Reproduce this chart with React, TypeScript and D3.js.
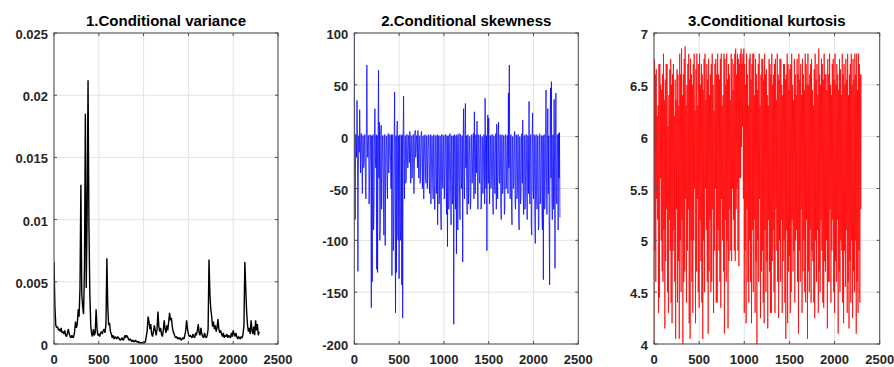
import React from "react";
import * as d3 from "d3";

const VAR_STEP = 10;
const DENSE_STEP = 5;

const varianceValues = [
  0.0066, 0.0030, 0.0015, 0.0013, 0.0014, 0.0011, 0.0012, 0.0010, 0.0013, 0.0009,
  0.0010, 0.0008, 0.0011, 0.0007, 0.0006, 0.0009, 0.0012, 0.0008, 0.0006, 0.0005,
  0.0007, 0.0005, 0.0006, 0.0010, 0.0018, 0.0013, 0.0016, 0.0028, 0.0022, 0.0045,
  0.0128, 0.0040, 0.0030, 0.0024, 0.0060, 0.0185, 0.0045, 0.0105, 0.0212, 0.0095,
  0.0040, 0.0015, 0.0008, 0.0006, 0.0012, 0.0007, 0.0009, 0.0028, 0.0012, 0.0007,
  0.0008, 0.0006, 0.0009, 0.0010, 0.0008, 0.0011, 0.0012, 0.0009, 0.0016, 0.0069,
  0.0030, 0.0015, 0.0017, 0.0010, 0.0008, 0.0005, 0.0007, 0.0004, 0.0006, 0.0005,
  0.0004, 0.0006, 0.0005, 0.0004, 0.0003, 0.0004, 0.0005, 0.0003, 0.0004, 0.0007,
  0.0005, 0.0007, 0.0006, 0.0004, 0.0003, 0.0004, 0.0003, 0.0002, 0.0003, 0.0002,
  0.0002, 0.0003, 0.0002, 0.00015, 0.0002, 0.0001, 0.00012, 0.0001, 0.00008, 0.0001,
  0.00015, 0.0001, 0.0002, 0.0006, 0.0011, 0.0022, 0.0018, 0.0012, 0.0016, 0.0008,
  0.0006, 0.0010, 0.0015, 0.0011, 0.0007, 0.0012, 0.0026, 0.0014, 0.0010, 0.0013,
  0.0008, 0.0006, 0.0011, 0.0019, 0.0012, 0.0009, 0.0015, 0.0011, 0.0018, 0.0025,
  0.0019, 0.0021, 0.0014, 0.0010, 0.0008, 0.0006, 0.0005, 0.0006, 0.0004, 0.0005,
  0.0004, 0.0005, 0.0003, 0.0004, 0.0005, 0.0004, 0.0007, 0.0011, 0.0019, 0.0012,
  0.0008, 0.0006, 0.0007, 0.0006, 0.0005, 0.0008, 0.0006, 0.0005, 0.0009, 0.0007,
  0.0011, 0.0016, 0.0009, 0.0007, 0.0013, 0.0008, 0.0006, 0.0005, 0.0009, 0.0006,
  0.0005, 0.0007, 0.0012, 0.0068, 0.0040, 0.0028, 0.0022, 0.0014, 0.0018, 0.0012,
  0.0015, 0.0010, 0.0013, 0.0020, 0.0012, 0.0009, 0.0011, 0.0008, 0.0006, 0.0009,
  0.0005, 0.0007, 0.0006, 0.0008, 0.0005, 0.0007, 0.0006, 0.0005, 0.0009, 0.0006,
  0.0011, 0.0008, 0.0006, 0.0009, 0.0006, 0.0004, 0.0006, 0.0005, 0.0004, 0.0006,
  0.0005, 0.0008, 0.0015, 0.0066, 0.0045, 0.0026, 0.0015, 0.0010, 0.0013, 0.0008,
  0.0019, 0.0011, 0.0008, 0.0014, 0.0007, 0.0019, 0.0011, 0.0016, 0.0007, 0.0010,
];

const skewnessValues = [
  100, -30, -80, 2, 2, -20, 35, 1, -130, -40, 1, -15, 26, 0, -35, 2, 3, -25, -55, 1,
  1, -30, -25, 2, 2, -50, -60, 1, 69, 0, -20, 1, 1, -65, -45, 2, 0, -35, -165, 1,
  -140, 1, 2, -90, -70, 1, 27, -20, -30, 2, -128, 1, -131, 0, 64, -40, 14, -100, -85, 1,
  11, -70, -40, 1, 1, -50, -95, 2, 2, -105, -30, 1, 0, -45, -60, 1, 3, -35, -20, 2,
  1, -25, -50, 2, -134, 1, 2, -110, -90, 0, 43, -60, -170, 1, -131, 2, 15, -95, -100, 1,
  -137, 0, 2, -100, -85, 1, -143, 2, -175, 0, 39, -20, -60, 1, 1, -45, -40, 2, 2, -30,
  -30, 1, 1, -25, 5, -10, -45, 1, 0, -40, -20, 2, 2, -55, -35, 1, 6, -20, -15, 1,
  1, -30, 6, -15, -40, 1, 0, -45, -25, 2, 5, -20, -50, 0, 1, -60, -30, 1, 2, -35,
  -45, 1, 0, -50, -20, 2, 1, -40, -55, 0, 2, -65, -35, 1, 0, -45, -60, 2, 1, -70,
  -70, 1, 0, -55, -40, 2, -85, 0, 1, -65, -60, 1, 0, -75, -90, 2, 2, -45, -50, 1,
  1, -60, -40, 2, 2, -50, -75, 1, -106, 0, 1, -70, -55, 2, 3, -45, -85, 1, 0, -65,
  -60, 1, -181, 0, 2, -55, -70, 1, -113, 2, 1, -90, -50, 0, 3, -60, -80, 2, 0, -50,
  -45, 1, -121, 0, 27, -40, -60, 2, 32, -30, 1, -55, -75, 1, 2, -65, -40, 0, 0, -70,
  -65, 2, 1, -45, -30, 1, 3, -60, 24, -20, -55, 1, 2, -35, 15, -50, -70, 2, 1, -40,
  -45, 1, 2, -70, -60, 0, 0, -55, -35, 2, 1, -65, 37, -20, -50, 1, -110, 0, 21, -45,
  18, -30, -65, 1, 1, -50, -40, 2, 2, -60, -75, 1, 0, -45, -55, 2, 3, -70, 12, -35,
  -60, 1, 14, -40, -45, 2, 1, -65, -80, 0, 2, -55, -50, 1, 0, -75, -70, 2, 2, -50,
  -35, 1, 1, -55, 42, -30, 69, -20, -60, 1, 2, -70, -85, 0, 0, -50, -45, 2, 5, -65,
  -70, 2, 1, -60, -55, 1, 2, -80, -90, 0, 0, -65, -60, 1, 3, -45, 16, -55, -75, 1,
  1, -70, -50, 2, 2, -60, -80, 1, 0, -55, 34, -25, -65, 1, 2, -85, -95, 0, 23, -50,
  -60, 2, 1, -75, -103, 0, 2, -60, -70, 1, 0, -90, -85, 2, 3, -65, -55, 1, 1, -80,
  -90, 1, -138, 0, 2, -70, -60, 2, 45, -35, -75, 1, 27, -55, 1, -85, -143, 2, 47, -40,
  53, -60, -80, 1, 2, -70, 36, -30, -127, 1, 42, -55, -65, 2, 1, -90, 3, -40, 4, -78,
];

const kurtosisValues = [
  4.0, 6.75, 4.9, 6.6, 4.6, 6.65, 5.4, 6.2, 5.2, 6.3, 4.3, 6.7, 4.45, 6.7, 5.6, 6.5, 5.0, 6.45, 4.7, 6.6,
  4.6, 6.8, 5.1, 6.35, 4.15, 6.55, 4.8, 6.7, 5.3, 6.7, 4.5, 6.1, 4.3, 6.4, 5.2, 6.65, 4.9, 6.75, 4.4, 6.5,
  4.2, 6.6, 4.9, 6.7, 5.1, 6.2, 4.6, 6.55, 4.05, 6.35, 5.3, 6.65, 4.4, 6.6, 4.8, 6.3, 4.05, 6.8, 5.0, 6.6,
  4.5, 6.85, 5.2, 6.4, 4.0, 6.6, 4.6, 6.75, 4.7, 6.87, 5.4, 6.3, 4.4, 6.5, 4.9, 6.7, 5.3, 6.8, 4.2, 6.55,
  4.05, 6.75, 5.0, 6.6, 4.6, 6.5, 4.3, 6.7, 5.0, 6.8, 5.5, 6.25, 4.2, 6.65, 4.7, 6.8, 5.4, 6.3, 4.5, 6.7,
  4.35, 6.8, 5.2, 6.5, 4.8, 6.7, 4.4, 6.6, 4.05, 6.45, 5.0, 6.75, 4.5, 6.8, 5.5, 6.35, 5.1, 6.7, 4.6, 6.55,
  4.1, 6.75, 4.7, 6.4, 5.2, 6.6, 4.5, 6.7, 4.6, 6.8, 5.3, 6.5, 4.3, 6.25, 4.9, 6.7, 5.5, 6.75, 4.4, 6.6,
  4.4, 6.8, 5.1, 6.6, 4.9, 6.55, 4.6, 6.75, 4.35, 6.8, 5.4, 6.3, 5.0, 6.4, 4.7, 6.8, 4.1, 6.75, 5.2, 6.5,
  4.6, 6.8, 5.0, 6.55, 4.15, 6.7, 4.8, 6.6, 5.3, 6.35, 4.9, 6.8, 4.8, 6.75, 5.5, 6.45, 5.2, 6.7, 4.9, 6.8,
  4.8, 6.85, 5.3, 6.6, 5.5, 6.8, 4.9, 6.75, 4.75, 6.7, 5.6, 6.8, 5.6, 6.85, 5.9, 6.7, 6.1, 6.8, 5.4, 6.85,
  4.3, 6.7, 4.9, 6.5, 4.2, 6.8, 5.3, 6.6, 4.6, 6.3, 4.4, 6.75, 5.0, 6.8, 4.6, 6.55, 4.2, 6.7, 5.1, 6.8,
  4.5, 6.8, 5.2, 6.4, 4.3, 6.75, 4.8, 6.6, 4.0, 6.45, 5.0, 6.7, 4.6, 6.8, 5.4, 6.3, 4.25, 6.6, 4.7, 6.75,
  4.9, 6.75, 4.4, 6.55, 4.2, 6.8, 5.1, 6.6, 4.5, 6.65, 4.8, 6.4, 4.15, 6.3, 5.2, 6.75, 4.7, 6.7, 4.3, 6.6,
  4.3, 6.8, 4.8, 6.5, 5.1, 6.6, 4.5, 6.7, 4.3, 6.75, 5.3, 6.35, 4.9, 6.8, 4.6, 6.6, 4.25, 6.55, 5.0, 6.75,
  4.6, 6.75, 5.2, 6.5, 4.3, 6.4, 4.8, 6.7, 5.0, 6.7, 4.4, 6.55, 4.05, 6.6, 5.1, 6.8, 4.2, 6.7, 4.7, 6.45,
  4.85, 6.65, 4.3, 6.7, 4.5, 6.8, 5.2, 6.5, 4.7, 6.35, 4.9, 6.75, 4.4, 6.6, 5.0, 6.4, 5.1, 6.75, 4.6, 6.6,
  4.1, 6.8, 4.9, 6.55, 4.6, 6.7, 5.3, 6.4, 4.3, 6.75, 4.7, 6.6, 5.0, 6.45, 4.5, 6.8, 4.4, 6.7, 5.2, 6.5,
  4.05, 6.8, 4.7, 6.5, 4.5, 6.6, 5.1, 6.7, 4.4, 6.75, 4.9, 6.45, 4.8, 6.3, 4.4, 6.65, 4.25, 6.8, 5.0, 6.55,
  4.6, 6.7, 5.1, 6.4, 4.3, 6.85, 4.7, 6.6, 4.5, 6.5, 5.2, 6.75, 4.9, 6.7, 4.4, 6.55, 4.35, 6.8, 4.8, 6.6,
  4.7, 6.6, 5.0, 6.45, 4.15, 6.75, 4.6, 6.6, 4.6, 6.8, 5.3, 6.5, 4.4, 6.4, 4.9, 6.7, 5.2, 6.75, 4.5, 6.55,
  4.3, 6.8, 4.8, 6.5, 4.6, 6.7, 5.2, 6.6, 4.1, 6.45, 4.7, 6.75, 4.5, 6.65, 5.0, 6.4, 4.9, 6.8, 4.4, 6.6,
  4.2, 6.7, 4.9, 6.5, 4.55, 6.75, 5.1, 6.55, 4.3, 6.8, 4.6, 6.4, 4.15, 6.6, 4.8, 6.7, 4.4, 6.8, 5.0, 6.5,
  4.25, 6.75, 4.7, 6.55, 4.5, 6.8, 5.0, 6.6, 4.1, 6.8, 4.6, 6.45, 4.3, 6.8, 4.9, 6.7, 4.4, 6.6, 5.3, 6.6,
];

const xTicks = [0, 500, 1000, 1500, 2000, 2500];
const varianceTicks = [0, 0.005, 0.01, 0.015, 0.02, 0.025];
const varianceTickLabels = ["0", "0.005", "0.01", "0.015", "0.02", "0.025"];
const skewTicks = [-200, -150, -100, -50, 0, 50, 100];
const kurtTicks = [4, 4.5, 5, 5.5, 6, 6.5, 7];

const titles = ["1.Conditional variance", "2.Conditional skewness", "3.Conditional kurtosis"];

type PanelProps = {
  left: number;
  right: number;
  top: number;
  bottom: number;
  values: number[];
  step: number;
  yDomain: [number, number];
  yTicks: number[];
  yLabels: string[];
  title: string;
  color: string;
  strokeWidth: number;
  id: string;
};

function Panel(p: PanelProps) {
  const x = d3.scaleLinear().domain([0, 2500]).range([p.left, p.right]);
  const y = d3.scaleLinear().domain(p.yDomain).range([p.bottom, p.top]);
  const line = d3
    .line<number>()
    .x((_, i) => x(i * p.step))
    .y((d) => y(d));
  const axisColor = "#4d4d4d";
  const gridColor = "#e3e3e3";
  const tickLen = 3;
  const font = "Liberation Sans, Arial, Helvetica, sans-serif";
  return (
    <g>
      <defs>
        <clipPath id={p.id}>
          <rect x={p.left} y={p.top} width={p.right - p.left} height={p.bottom - p.top} />
        </clipPath>
      </defs>
      <rect x={p.left} y={p.top} width={p.right - p.left} height={p.bottom - p.top} fill="#fff" />
      {xTicks.map((t) => (
        <line key={"gx" + t} x1={x(t)} x2={x(t)} y1={p.top} y2={p.bottom} stroke={gridColor} strokeWidth={1} />
      ))}
      {p.yTicks.map((t) => (
        <line key={"gy" + t} x1={p.left} x2={p.right} y1={y(t)} y2={y(t)} stroke={gridColor} strokeWidth={1} />
      ))}
      <path d={line(p.values) || ""} fill="none" stroke={p.color} strokeWidth={p.strokeWidth} clipPath={`url(#${p.id})`} strokeLinejoin="bevel" />
      <rect x={p.left} y={p.top} width={p.right - p.left} height={p.bottom - p.top} fill="none" stroke={axisColor} strokeWidth={1} />
      {xTicks.map((t) => (
        <g key={"tx" + t}>
          <line x1={x(t)} x2={x(t)} y1={p.bottom} y2={p.bottom - tickLen} stroke={axisColor} />
          <line x1={x(t)} x2={x(t)} y1={p.top} y2={p.top + tickLen} stroke={axisColor} />
          <text x={x(t)} y={p.bottom + 20} textAnchor="middle" fontFamily={font} fontWeight="bold" fontSize={13} fill="#262626">
            {t}
          </text>
        </g>
      ))}
      {p.yTicks.map((t, i) => (
        <g key={"ty" + t}>
          <line x1={p.left} x2={p.left + tickLen} y1={y(t)} y2={y(t)} stroke={axisColor} />
          <line x1={p.right} x2={p.right - tickLen} y1={y(t)} y2={y(t)} stroke={axisColor} />
          <text x={p.left - 6} y={y(t) + 6} textAnchor="end" fontFamily={font} fontWeight="bold" fontSize={13} fill="#262626">
            {p.yLabels[i]}
          </text>
        </g>
      ))}
      <text x={(p.left + p.right) / 2} y={25.5} textAnchor="middle" fontFamily={font} fontWeight="bold" fontSize={15} fill="#000">
        {p.title}
      </text>
    </g>
  );
}

export default function App() {
  return (
    <svg width={894} height={367} style={{ position: "absolute", left: 0, top: 0, background: "#fff" }}>
      <rect x={0} y={0} width={894} height={367} fill="#fff" />
      <Panel id="c1" left={54} right={278} top={33} bottom={344} values={varianceValues} step={VAR_STEP} yDomain={[0, 0.025]} yTicks={varianceTicks} yLabels={varianceTickLabels} title={titles[0]} color="#000000" strokeWidth={1.4} />
      <Panel id="c2" left={354.3} right={578.3} top={33} bottom={344} values={skewnessValues} step={DENSE_STEP} yDomain={[-200, 100]} yTicks={skewTicks} yLabels={skewTicks.map(String)} title={titles[1]} color="#0000ff" strokeWidth={0.75} />
      <Panel id="c3" left={654} right={879.7} top={33} bottom={344} values={kurtosisValues} step={DENSE_STEP} yDomain={[4, 7]} yTicks={kurtTicks} yLabels={kurtTicks.map(String)} title={titles[2]} color="#ff0000" strokeWidth={0.75} />
    </svg>
  );
}
